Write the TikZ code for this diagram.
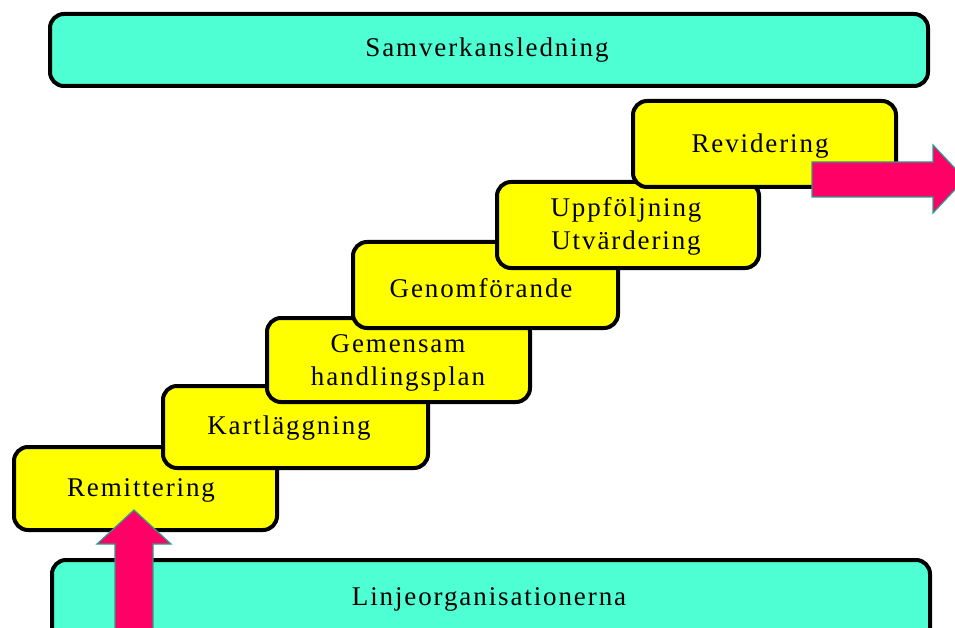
\documentclass[tikz,border=0pt]{standalone}
\usepackage{fontspec}
\setmainfont{Liberation Serif}[LetterSpace=7]
\begin{document}
\begin{tikzpicture}[x=1pt,y=-1pt,
  bar/.style={draw=black,line width=4pt,rounded corners=14pt,fill=barcol},
  stepbox/.style={draw=black,line width=4pt,rounded corners=14pt,fill=stepcol},
  lbl/.style={font=\fontsize{27}{33}\selectfont,align=center,inner sep=0pt},
  blockarrow/.style={fill=arrowcol,draw=arrowedge,line width=1.2pt,line join=miter}]
\definecolor{barcol}{HTML}{4DFFD3}
\definecolor{stepcol}{HTML}{FFFF00}
\definecolor{arrowedge}{HTML}{2E9C8C}
\definecolor{arrowcol}{HTML}{FF0066}
\useasboundingbox (0,0) rectangle (955,628);
\clip (0,0) rectangle (955,628);
% bars
\draw[bar] (50,14) rectangle (928,86);
\node[lbl] (samv) at (487,50) {Samverkansledning};
\draw[bar] (52,560) rectangle (930,660);
\node[lbl] (linje) at (489,599) {Linjeorganisationerna};
% steps
\draw[stepbox] (14,447) rectangle (277,530);
\node[lbl] (remit) at (141,490) {Remittering};
\draw[stepbox] (163,386) rectangle (428,468);
\node[lbl] (kart) at (289,428) {Kartläggning};
\draw[stepbox] (267,318) rectangle (530,402);
\node[lbl] (gem) at (398,363) {Gemensam\\handlingsplan};
\draw[stepbox] (353,242) rectangle (618,328);
\node[lbl] (genom) at (481,288) {Genomförande};
\draw[stepbox] (497,182) rectangle (759,268);
\node[lbl] (uppf) at (626,226) {Uppföljning\\Utvärdering};
\draw[stepbox] (633,101) rectangle (896,187);
\node[lbl] (revid) at (760,146) {Revidering};
% arrows
\draw[blockarrow] (812,162) -- (933,162) -- (933,145) -- (965,179) -- (933,213) -- (933,197) -- (812,197) -- cycle;
\draw[blockarrow] (115,640) -- (115,544) -- (97,544) -- (134,510) -- (171,544) -- (153,544) -- (153,640) -- cycle;
\end{tikzpicture}
\end{document}
